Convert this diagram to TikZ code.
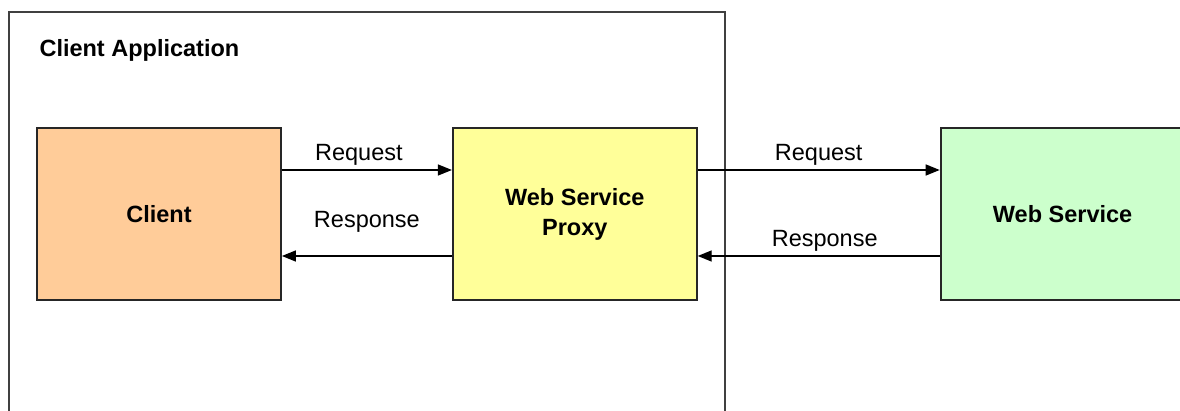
\documentclass[tikz,border=0pt]{standalone}
\usepackage{fontspec}
\setmainfont{Liberation Sans}
\usetikzlibrary{arrows.meta, positioning}

\definecolor{clientfill}{HTML}{FFCC99}
\definecolor{proxyfill}{HTML}{FFFF99}
\definecolor{servicefill}{HTML}{CCFFCC}

\begin{document}
\begin{tikzpicture}[
    x=1pt, y=-1pt,
    node distance={170pt},
    box/.style={draw=black!85, line width=1.8pt, minimum width=244pt,
        minimum height=172pt, align=center, font=\fontsize{23.5}{30}\selectfont\bfseries},
    msg/.style={font=\fontsize{23.5}{28}\selectfont},
    flow/.style={-{Triangle[length=14pt, width=11pt]}, line width=1.4pt}
]

\useasboundingbox (0,0) rectangle (1180,411);
\clip (0,0) rectangle (1180,411);

\draw[black!75, line width=1.8pt] (9,12) rectangle (725,440);
\node[anchor=west, font=\fontsize{23.5}{28}\selectfont\bfseries] (app) at (36,50) {Client Application};

\node[box, fill=clientfill] (client) at (159,214) {Client};
\node[box, fill=proxyfill] (proxy) [right=of client] {Web Service\\Proxy};
\node[box, fill=servicefill] (service) [right=242pt of proxy] {Web Service};

\draw[flow] ([yshift=44pt]client.east) -- node[msg, above=1pt, xshift=-8pt] {Request} ([yshift=44pt]proxy.west);
\draw[flow] ([yshift=-42pt]proxy.west) -- node[msg, above=20pt] {Response} ([yshift=-42pt]client.east);
\draw[flow] ([yshift=44pt]proxy.east) -- node[msg, above=1pt] {Request} ([yshift=44pt]service.west);
\draw[flow] ([yshift=-42pt]service.west) -- node[msg, above=1pt, xshift=6pt] {Response} ([yshift=-42pt]proxy.east);

\end{tikzpicture}
\end{document}
